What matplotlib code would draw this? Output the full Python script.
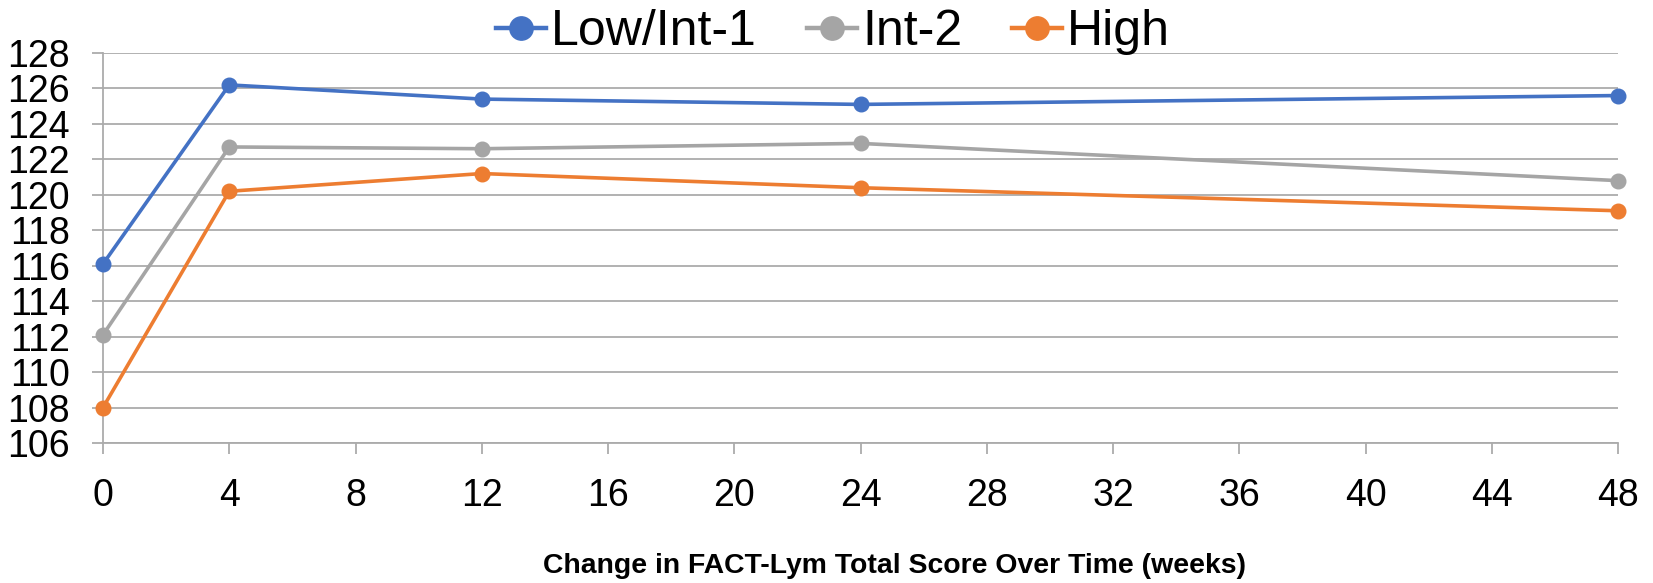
import numpy as np
import matplotlib.pyplot as plt

plt.rcParams['font.family'] = ['Liberation Sans', 'DejaVu Sans']

weeks = [0, 4, 12, 24, 48]
low_int1 = [116.1, 126.2, 125.4, 125.1, 125.6]
int2 = [112.1, 122.7, 122.6, 122.9, 120.8]
high = [108.0, 120.2, 121.2, 120.4, 119.1]

series = [('Low/Int-1', low_int1, '#4472C4'),
          ('Int-2', int2, '#A5A5A5'),
          ('High', high, '#ED7D31')]

x_ticks = np.arange(0, 49, 4)
y_ticks = np.arange(106, 129, 2)

fig = plt.figure(figsize=(16.53, 5.83), dpi=100)
ax = fig.add_axes([103 / 1653, 1 - 443 / 583, (1618 - 103) / 1653, (443 - 53) / 583])

grid_col = '#ABABAB'
for name, vals, col in series:
    ax.plot(weeks, vals, color=col, lw=2.6, marker='o', markersize=10.5,
            label=name, clip_on=False, zorder=3)

ax.set_xlim(0, 48)
ax.set_ylim(106, 128)
ax.set_xticks(x_ticks)
ax.set_yticks(y_ticks)
ax.grid(axis='y', color=grid_col, lw=1.3)
ax.set_axisbelow(True)

for s in ['top', 'right']:
    ax.spines[s].set_visible(False)
for s in ['left', 'bottom']:
    ax.spines[s].set_color(grid_col)
    ax.spines[s].set_linewidth(1.3)

ax.tick_params(axis='both', colors=grid_col, labelcolor='black', labelsize=27,
               length=8, width=1.3)
ax.tick_params(axis='x', pad=17)
ax.tick_params(axis='y', pad=16)

fig.text(894 / 1653, 1 - 566 / 583, 'Change in FACT-Lym Total Score Over Time (weeks)',
         ha='center', va='center', fontsize=20.4, fontweight='bold')

leg = fig.legend(loc='center', bbox_to_anchor=(0.504, 1 - 32 / 583), ncol=3, frameon=False,
                 fontsize=36, handlelength=1.0, handletextpad=0.1, columnspacing=1.0,
                 borderpad=0, markerscale=1.6)
for h in leg.legend_handles:
    h.set_linewidth(3.2)

fig.savefig('out.png', dpi=100)
